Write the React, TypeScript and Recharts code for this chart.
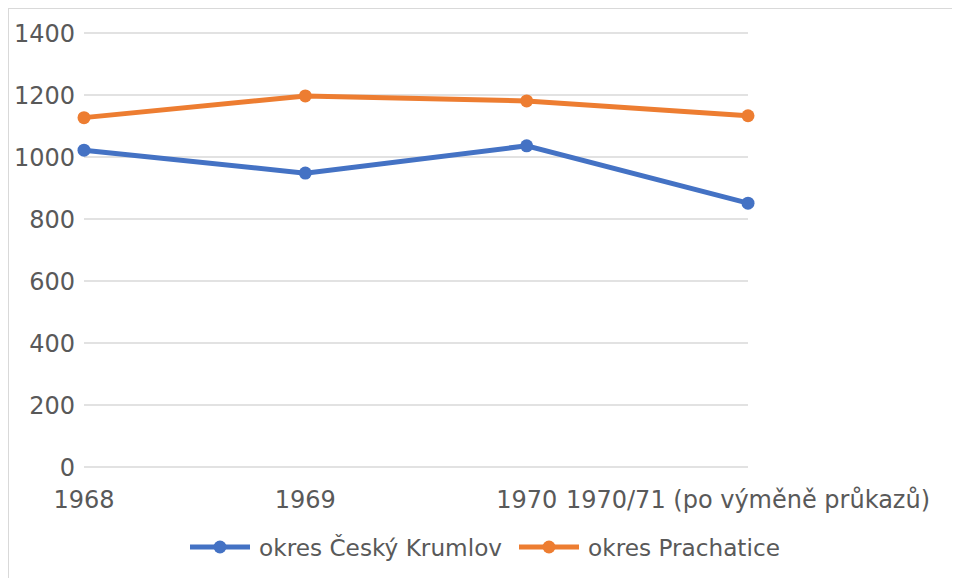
import { CartesianGrid, Legend, Line, LineChart, XAxis, YAxis } from "recharts";

const years = ["1968", "1969", "1970", "1970/71 (po výměně průkazů)"];
const krumlov = [1022, 948, 1036, 851];
const prachatice = [1127, 1197, 1181, 1133];
const yTicks = [0, 200, 400, 600, 800, 1000, 1200, 1400];

const series = [
  { key: "krumlov", name: "okres Český Krumlov", color: "#4472C4" },
  { key: "prachatice", name: "okres Prachatice", color: "#ED7D31" },
];

const rows = years.map((year, i) => ({
  year,
  krumlov: krumlov[i],
  prachatice: prachatice[i],
}));

const FONT = "'DejaVu Sans', sans-serif";
const TEXT = "#595959";

const LegendContent = () => (
  <div
    style={{
      display: "flex",
      justifyContent: "center",
      alignItems: "center",
      height: 28,
      fontFamily: FONT,
      fontSize: 23.2,
      color: TEXT,
    }}
  >
    {series.map((s, i) => (
      <div key={s.key} style={{ display: "flex", alignItems: "center", marginLeft: i ? 17 : 0 }}>
        <svg height={16} width={60} style={{ marginRight: 9 }}>
          <line stroke={s.color} strokeWidth={5} x1={0} x2={60} y1={8} y2={8} />
          <circle cx={30} cy={8} fill={s.color} r={6.5} />
        </svg>
        <span>{s.name}</span>
      </div>
    ))}
  </div>
);

export default function App() {
  return (
    <div
      style={{
        width: 952,
        height: 570,
        borderTop: "1px solid #d9d9d9",
        borderLeft: "1px solid #d9d9d9",
        background: "#fff",
      }}
    >
      <LineChart
        data={rows}
        height={570}
        margin={{ top: 24, right: 213, bottom: 18, left: 0 }}
        width={952}
      >
        <CartesianGrid stroke="#d9d9d9" strokeWidth={1.5} vertical={false} />
        <XAxis
          axisLine={false}
          dataKey="year"
          height={66}
          interval={0}
          tick={{ fill: TEXT, fontFamily: FONT, fontSize: 24 }}
          tickLine={false}
          tickMargin={24}
          tickSize={0}
        />
        <YAxis
          axisLine={false}
          domain={[0, 1400]}
          tick={{ fill: TEXT, fontFamily: FONT, fontSize: 24 }}
          tickLine={false}
          tickMargin={9}
          tickSize={0}
          ticks={yTicks}
          width={75}
        />
        <Legend
          content={<LegendContent />}
          verticalAlign="bottom"
          wrapperStyle={{ left: 0, width: 952 }}
        />
        {series.map((s) => (
          <Line
            key={s.key}
            dataKey={s.key}
            dot={{ r: 6.5, fill: s.color, stroke: s.color, strokeWidth: 0 }}
            isAnimationActive={false}
            name={s.name}
            stroke={s.color}
            strokeWidth={5}
            type="linear"
          />
        ))}
      </LineChart>
    </div>
  );
}
